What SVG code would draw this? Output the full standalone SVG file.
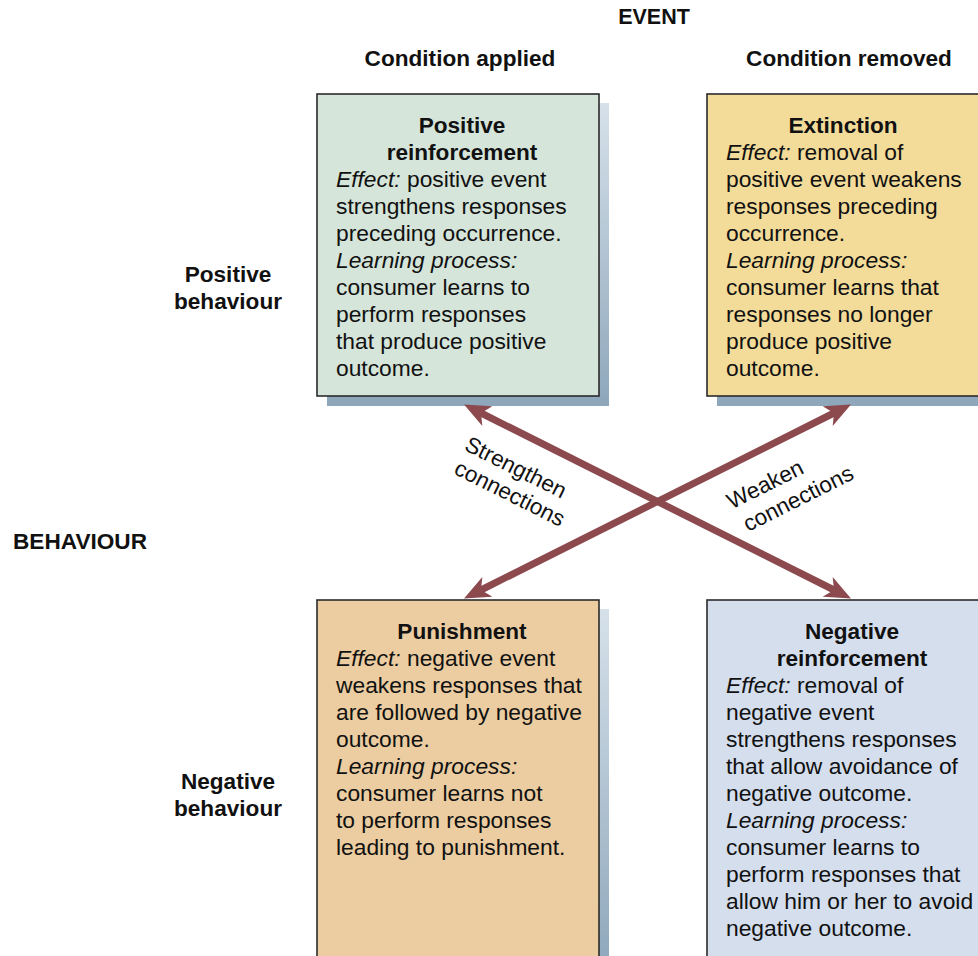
<svg xmlns="http://www.w3.org/2000/svg" width="978" height="956" viewBox="0 0 978 956">
<style>
text{font-family:"Liberation Sans",Arial,sans-serif;fill:#111;}
.h{font-weight:bold;font-size:22.6px;}
.b{font-size:22.8px;}
.i{font-style:italic;}
.c{text-anchor:middle;}
.lbl{font-size:22.5px;text-anchor:middle;}
.box{stroke:#2b2b2b;stroke-width:1.6;}
.arr{stroke:#8c4a4e;stroke-width:7;fill:none;marker-start:url(#head);marker-end:url(#head);}
</style>
<defs>
<linearGradient id="sh" x1="0" y1="0" x2="0" y2="1">
<stop offset="0" stop-color="#d6e1ea"/>
<stop offset="1" stop-color="#8ea7bb"/>
</linearGradient>
<marker id="head" viewBox="0 0 26 22" refX="7" refY="11" markerWidth="26" markerHeight="22" markerUnits="userSpaceOnUse" orient="auto-start-reverse">
<path d="M0,0 L26,11 L0,22 L7,11 z" fill="#8c4a4e"/>
</marker>
</defs>
<rect width="978" height="956" fill="#fff"/>

<g id="headers">
<text class="h c" x="654" y="24" style="font-size:21.5px">EVENT</text>
<text class="h c" x="460" y="66">Condition applied</text>
<text class="h c" x="849" y="66">Condition removed</text>
<text class="h c" x="228" y="282">Positive</text>
<text class="h c" x="228" y="309">behaviour</text>
<text class="h c" x="80" y="549">BEHAVIOUR</text>
<text class="h c" x="228" y="789">Negative</text>
<text class="h c" x="228" y="816">behaviour</text>
</g>

<g id="positive-reinforcement">
<rect x="327" y="103" width="282" height="303" fill="url(#sh)"/>
<rect x="327" y="396" width="282" height="10" fill="#8ea7bb"/>
<rect class="box" x="317" y="94" width="282" height="302" fill="#d6e5da"/>
<text class="h c" x="462" y="133">Positive</text>
<text class="h c" x="462" y="160">reinforcement</text>
<text class="b" x="336" y="187"><tspan class="i">Effect:</tspan> positive event</text>
<text class="b" x="336" y="214">strengthens responses</text>
<text class="b" x="336" y="241">preceding occurrence.</text>
<text class="b i" x="336" y="268">Learning process:</text>
<text class="b" x="336" y="295">consumer learns to</text>
<text class="b" x="336" y="322">perform responses</text>
<text class="b" x="336" y="349">that produce positive</text>
<text class="b" x="336" y="376">outcome.</text>
</g>

<g id="extinction">
<rect x="717" y="103" width="282" height="303" fill="url(#sh)"/>
<rect x="717" y="396" width="282" height="10" fill="#8ea7bb"/>
<rect class="box" x="707" y="94" width="282" height="302" fill="#f3dc9a"/>
<text class="h c" x="843" y="133">Extinction</text>
<text class="b" x="726" y="160"><tspan class="i">Effect:</tspan> removal of</text>
<text class="b" x="726" y="187">positive event weakens</text>
<text class="b" x="726" y="214">responses preceding</text>
<text class="b" x="726" y="241">occurrence.</text>
<text class="b i" x="726" y="268">Learning process:</text>
<text class="b" x="726" y="295">consumer learns that</text>
<text class="b" x="726" y="322">responses no longer</text>
<text class="b" x="726" y="349">produce positive</text>
<text class="b" x="726" y="376">outcome.</text>
</g>

<g id="punishment">
<rect x="327" y="609" width="282" height="360" fill="url(#sh)"/>
<rect class="box" x="317" y="600" width="282" height="370" fill="#ebcda1"/>
<text class="h c" x="462" y="639">Punishment</text>
<text class="b" x="336" y="666"><tspan class="i">Effect:</tspan> negative event</text>
<text class="b" x="336" y="693">weakens responses that</text>
<text class="b" x="336" y="720">are followed by negative</text>
<text class="b" x="336" y="747">outcome.</text>
<text class="b i" x="336" y="774">Learning process:</text>
<text class="b" x="336" y="801">consumer learns not</text>
<text class="b" x="336" y="828">to perform responses</text>
<text class="b" x="336" y="855">leading to punishment.</text>
</g>

<g id="negative-reinforcement">
<rect class="box" x="707" y="600" width="282" height="370" fill="#d4deed"/>
<text class="h c" x="852" y="639">Negative</text>
<text class="h c" x="852" y="666">reinforcement</text>
<text class="b" x="726" y="693"><tspan class="i">Effect:</tspan> removal of</text>
<text class="b" x="726" y="720">negative event</text>
<text class="b" x="726" y="747">strengthens responses</text>
<text class="b" x="726" y="774">that allow avoidance of</text>
<text class="b" x="726" y="801">negative outcome.</text>
<text class="b i" x="726" y="828">Learning process:</text>
<text class="b" x="726" y="855">consumer learns to</text>
<text class="b" x="726" y="882">perform responses that</text>
<text class="b" x="726" y="909">allow him or her to avoid</text>
<text class="b" x="726" y="936">negative outcome.</text>
</g>

<g id="connectors">
<line class="arr" x1="481" y1="413" x2="834" y2="590"/>
<line class="arr" x1="834" y1="413" x2="481" y2="590"/>
<text class="lbl" transform="translate(516,467) rotate(26.6)" y="8">Strengthen</text>
<text class="lbl" transform="translate(510,493) rotate(26.6)" y="8">connections</text>
<text class="lbl" transform="translate(765,484) rotate(-26.6)" y="8">Weaken</text>
<text class="lbl" transform="translate(798,498) rotate(-26.6)" y="8">connections</text>
</g>
</svg>
